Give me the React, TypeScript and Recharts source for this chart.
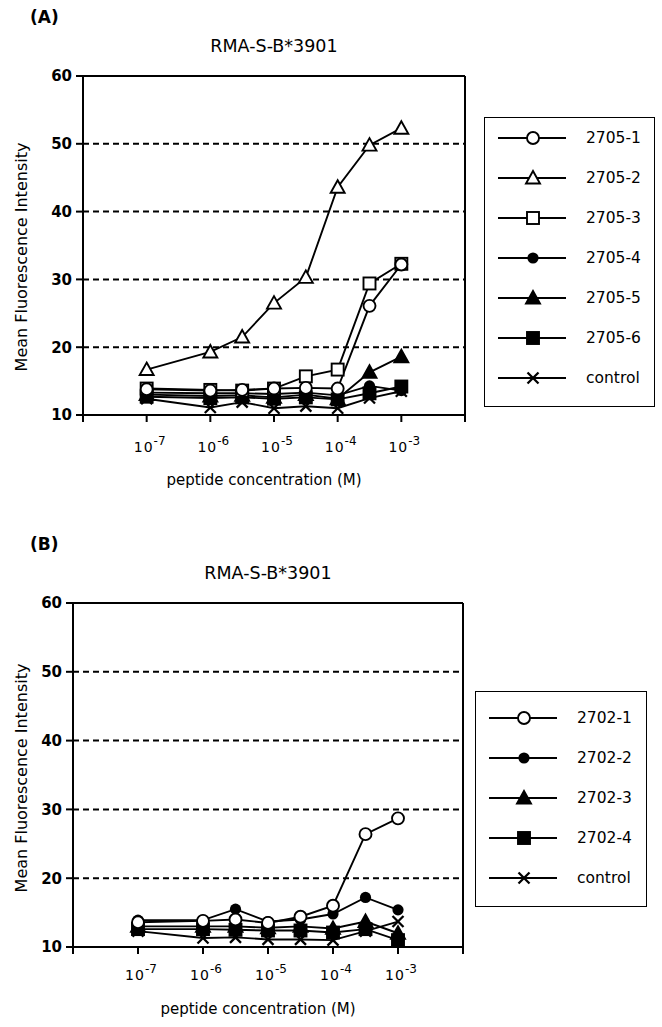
import React from "react";
import { CartesianGrid, Line, LineChart, ReferenceLine, XAxis, YAxis } from "recharts";

// peptide concentration, log10(M)
const LOG_CONC = [-7, -6, -5.5, -5, -4.5, -4, -3.5, -3];
const X_TICKS = [-8, -7, -6, -5, -4, -3, -2];
const Y_TICKS = [10, 20, 30, 40, 50, 60];

// panel A: RMA-S-B*3901, 2705 peptides
const A_2705_1 = [13.8, 13.6, 13.7, 13.9, 14.0, 13.9, 26.1, 32.2];
const A_2705_2 = [16.7, 19.3, 21.5, 26.5, 30.3, 43.6, 49.8, 52.3];
const A_2705_3 = [13.9, 13.7, 13.6, 13.9, 15.7, 16.7, 29.4, 32.3];
const A_2705_4 = [13.3, 13.2, 13.2, 13.1, 13.3, 12.9, 14.3, 13.6];
const A_2705_5 = [13.0, 12.8, 12.9, 12.6, 13.0, 12.4, 16.3, 18.6];
const A_2705_6 = [12.7, 12.5, 12.6, 12.4, 12.6, 12.3, 13.2, 14.2];
const A_CONTROL = [12.4, 11.1, 11.9, 11.0, 11.3, 11.0, 12.5, 13.5];

// panel B: RMA-S-B*3901, 2702 peptides
const B_2702_1 = [13.6, 13.8, 14.0, 13.5, 14.4, 16.0, 26.4, 28.7];
const B_2702_2 = [13.9, 13.9, 15.5, 13.7, 14.0, 14.8, 17.2, 15.4];
const B_2702_3 = [13.0, 13.0, 13.0, 12.8, 13.0, 12.7, 13.7, 12.0];
const B_2702_4 = [12.6, 12.6, 12.5, 12.4, 12.4, 12.1, 12.6, 11.0];
const B_CONTROL = [12.3, 11.3, 11.4, 11.1, 11.1, 11.0, 12.3, 13.7];

type MarkerKind = "circle" | "triangle" | "square" | "dot" | "filledTriangle" | "filledSquare" | "cross";
type Series = { key: string; name: string; marker: MarkerKind; values: number[] };

const SERIES_A: Series[] = [
  { key: "a1", name: "2705-1", marker: "circle", values: A_2705_1 },
  { key: "a2", name: "2705-2", marker: "triangle", values: A_2705_2 },
  { key: "a3", name: "2705-3", marker: "square", values: A_2705_3 },
  { key: "a4", name: "2705-4", marker: "dot", values: A_2705_4 },
  { key: "a5", name: "2705-5", marker: "filledTriangle", values: A_2705_5 },
  { key: "a6", name: "2705-6", marker: "filledSquare", values: A_2705_6 },
  { key: "ac", name: "control", marker: "cross", values: A_CONTROL },
];

const SERIES_B: Series[] = [
  { key: "b1", name: "2702-1", marker: "circle", values: B_2702_1 },
  { key: "b2", name: "2702-2", marker: "dot", values: B_2702_2 },
  { key: "b3", name: "2702-3", marker: "filledTriangle", values: B_2702_3 },
  { key: "b4", name: "2702-4", marker: "filledSquare", values: B_2702_4 },
  { key: "bc", name: "control", marker: "cross", values: B_CONTROL },
];

const FONT = "'DejaVu Sans', Arial, sans-serif";

function buildRows(series: Series[]) {
  return LOG_CONC.map((c, i) => {
    const row: Record<string, number> = { c };
    series.forEach((s) => (row[s.key] = s.values[i]));
    return row;
  });
}

function Marker({ kind, cx, cy }: { kind: MarkerKind; cx: number; cy: number }) {
  const sw = 1.9;
  switch (kind) {
    case "circle":
      return <circle cx={cx} cy={cy} r={6} fill="#fff" stroke="#000" strokeWidth={sw} />;
    case "dot":
      return <circle cx={cx} cy={cy} r={5.6} fill="#000" />;
    case "triangle":
    case "filledTriangle":
      return (
        <polygon
          points={`${cx},${cy - 7} ${cx + 7},${cy + 5.5} ${cx - 7},${cy + 5.5}`}
          fill={kind === "triangle" ? "#fff" : "#000"}
          stroke="#000"
          strokeWidth={sw}
          strokeLinejoin="miter"
        />
      );
    case "square":
    case "filledSquare":
      return (
        <rect
          x={cx - 6}
          y={cy - 6}
          width={12}
          height={12}
          fill={kind === "square" ? "#fff" : "#000"}
          stroke="#000"
          strokeWidth={sw}
        />
      );
    case "cross":
      return (
        <g stroke="#000" strokeWidth={2.3}>
          <line x1={cx - 5.5} y1={cy - 5.5} x2={cx + 5.5} y2={cy + 5.5} />
          <line x1={cx - 5.5} y1={cy + 5.5} x2={cx + 5.5} y2={cy - 5.5} />
        </g>
      );
  }
}

function PowerTick(props: any) {
  const { x, y, payload, dy } = props;
  const v = payload.value;
  if (v === -8 || v === -2) return <g />;
  return (
    <text x={x + 3} y={y + dy} textAnchor="middle" fontFamily={FONT} fontSize={14} fill="#000">
      <tspan letterSpacing={1}>10</tspan>
      <tspan dy={-7} fontSize={12}>
        {String(v)}
      </tspan>
    </text>
  );
}

function LegendBox({ series, left, top, width, padTop }: { series: Series[]; left: number; top: number; width: number; padTop: number }) {
  return (
    <div
      style={{
        position: "absolute",
        left,
        top,
        width,
        border: "1.5px solid #000",
        background: "#fff",
        paddingTop: padTop,
        paddingBottom: 8,
        boxSizing: "border-box",
      }}
    >
      {series.map((s) => (
        <div key={s.key} style={{ position: "relative", height: 40 }}>
          <svg width={90} height={40} style={{ position: "absolute", left: 0, top: 0 }}>
            <line x1={13} y1={20} x2={81} y2={20} stroke="#000" strokeWidth={1.9} />
            <Marker kind={s.marker} cx={48} cy={20} />
          </svg>
          <span style={{ position: "absolute", left: 101, top: 10, fontSize: 15.5, fontFamily: FONT, lineHeight: "20px" }}>
            {s.name}
          </span>
        </div>
      ))}
    </div>
  );
}

type PanelProps = {
  letter: string;
  series: Series[];
  top: number;
  axisLeft: number;
  axisRight: number;
  plotHeight: number;
  tickDy: number;
  legend: { left: number; top: number; width: number; padTop: number };
  xLabelTop: number;
  yLabelCenter: number;
};

function Panel(p: PanelProps) {
  const data = buildRows(p.series);
  const chartW = 480;
  const chartH = 440;
  const marginTop = 16;
  const drawOrder = [...p.series].reverse();
  const plotCenter = (p.axisLeft + p.axisRight) / 2;
  return (
    <>
      <div style={{ position: "absolute", left: 30, top: p.top - 53, fontSize: 17, fontWeight: "bold", fontFamily: FONT }}>
        {p.letter}
      </div>
      <div
        style={{
          position: "absolute",
          left: plotCenter - 150,
          width: 300,
          textAlign: "center",
          top: p.top - 24,
          fontSize: 17.5,
          fontFamily: FONT,
        }}
      >
        RMA-S-B*3901
      </div>
      <div style={{ position: "absolute", left: 0, top: p.top }}>
        <LineChart
          width={chartW}
          height={chartH}
          data={data}
          margin={{ top: marginTop, right: chartW - p.axisRight, left: 0, bottom: 0 }}
        >
          <CartesianGrid vertical={false} stroke="#000" strokeWidth={2} strokeDasharray="6 4" />
          <XAxis
            dataKey="c"
            type="number"
            domain={[-8, -2]}
            ticks={X_TICKS}
            interval={0}
            height={chartH - marginTop - p.plotHeight}
            tickSize={7}
            tickMargin={0}
            axisLine={{ stroke: "#000", strokeWidth: 2 }}
            tickLine={{ stroke: "#000", strokeWidth: 2 }}
            tick={(t: any) => <PowerTick {...t} dy={p.tickDy} />}
          />
          <YAxis
            type="number"
            domain={[10, 60]}
            ticks={Y_TICKS}
            interval={0}
            width={p.axisLeft}
            tickSize={7}
            tickMargin={4}
            axisLine={{ stroke: "#000", strokeWidth: 2 }}
            tickLine={{ stroke: "#000", strokeWidth: 2 }}
            tick={{ fill: "#000", fontSize: 15, fontWeight: "bold", fontFamily: FONT }}
          />
          <ReferenceLine y={60} stroke="#000" strokeWidth={2} />
          <ReferenceLine x={-2} stroke="#000" strokeWidth={2} />
          {drawOrder.map((s) => (
            <Line
              key={s.key}
              dataKey={s.key}
              name={s.name}
              type="linear"
              stroke="#000"
              strokeWidth={1.9}
              isAnimationActive={false}
              activeDot={false}
              dot={(d: any) => <Marker key={`${s.key}-${d.index}`} kind={s.marker} cx={d.cx} cy={d.cy} />}
            />
          ))}
        </LineChart>
      </div>
      <div
        style={{
          position: "absolute",
          left: plotCenter - 160,
          width: 300,
          textAlign: "center",
          top: p.xLabelTop,
          fontSize: 15,
          fontFamily: FONT,
        }}
      >
        peptide concentration (M)
      </div>
      <div
        style={{
          position: "absolute",
          left: 22 - 150,
          width: 300,
          top: p.yLabelCenter - 10,
          height: 20,
          lineHeight: "20px",
          textAlign: "center",
          transform: "rotate(-90deg)",
          fontSize: 16,
          fontFamily: FONT,
        }}
      >
        Mean Fluorescence Intensity
      </div>
      <LegendBox series={p.series} {...p.legend} />
    </>
  );
}

export default function App() {
  return (
    <div style={{ position: "absolute", left: 0, top: 0, width: 662, height: 1027, background: "#fff", fontFamily: FONT }}>
      <Panel
        letter="(A)"
        series={SERIES_A}
        top={60}
        axisLeft={83}
        axisRight={465}
        plotHeight={339}
        tickDy={30}
        legend={{ left: 484, top: 117, width: 171, padTop: 0 }}
        xLabelTop={471}
        yLabelCenter={257}
      />
      <Panel
        letter="(B)"
        series={SERIES_B}
        top={587}
        axisLeft={73}
        axisRight={463}
        plotHeight={344}
        tickDy={26}
        legend={{ left: 475, top: 691, width: 172, padTop: 6 }}
        xLabelTop={1000}
        yLabelCenter={778}
      />
    </div>
  );
}
